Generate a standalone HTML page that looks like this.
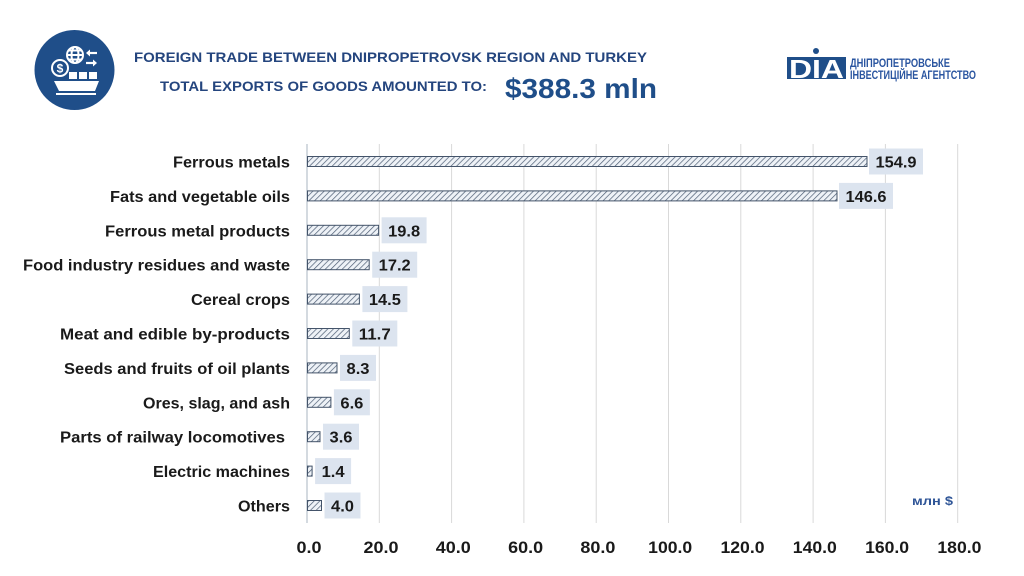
<!DOCTYPE html>
<html>
<head>
<meta charset="utf-8">
<style>
  html, body { margin:0; padding:0; background:#ffffff; }
  svg { display:block; }
  text { font-family: "Liberation Sans", "DejaVu Sans", sans-serif; }
</style>
</head>
<body>
<svg width="1024" height="576" viewBox="0 0 1024 576" xmlns="http://www.w3.org/2000/svg">
  <defs>
    <pattern id="hatch" patternUnits="userSpaceOnUse" width="4" height="4" patternTransform="rotate(45)">
      <rect width="4" height="4" fill="#eef2f7"/>
      <line x1="0" y1="0" x2="0" y2="4" stroke="#4d5d73" stroke-width="1.4"/>
    </pattern>
  </defs>
  <rect width="1024" height="576" fill="#ffffff"/>

  <!-- Icon -->
  <circle cx="74.5" cy="70" r="40" fill="#1f4e89"/>
  <g fill="none" stroke="#ffffff" stroke-width="2">
    <circle cx="75" cy="55" r="8"/>
    <ellipse cx="75" cy="55" rx="3.5" ry="8"/>
    <line x1="67" y1="55" x2="83" y2="55"/>
    <line x1="68.5" y1="50.5" x2="81.5" y2="50.5"/>
    <line x1="68.5" y1="59.5" x2="81.5" y2="59.5"/>
  </g>
  <g stroke="#ffffff" stroke-width="2.2" fill="#ffffff">
    <line x1="89" y1="53" x2="97" y2="53"/>
    <polygon points="86,53 90,49.5 90,56.5" stroke="none"/>
    <line x1="86" y1="63" x2="94" y2="63"/>
    <polygon points="97,63 93,59.5 93,66.5" stroke="none"/>
  </g>
  <circle cx="60" cy="68" r="8" fill="#1f4e89" stroke="#ffffff" stroke-width="2"/>
  <text x="60" y="72.5" font-size="12" font-weight="bold" fill="#ffffff" text-anchor="middle">$</text>
  <g fill="#ffffff">
    <rect x="69" y="72" width="8" height="7"/>
    <rect x="79" y="72" width="8" height="7"/>
    <rect x="89" y="72" width="8" height="7"/>
    <polygon points="54,81 99,81 95,91 59,91"/>
  </g>
  <rect x="56" y="93" width="40" height="2" fill="#ffffff"/>

  <!-- Title -->
  <text x="134" y="62" font-size="14" font-weight="bold" fill="#24457e" textLength="513" lengthAdjust="spacingAndGlyphs">FOREIGN TRADE BETWEEN DNIPROPETROVSK REGION AND  TURKEY</text>
  <text x="160" y="91" font-size="14" font-weight="bold" fill="#24457e" textLength="327" lengthAdjust="spacingAndGlyphs">TOTAL EXPORTS OF GOODS AMOUNTED TO:</text>
  <text x="505" y="98" font-size="28" font-weight="bold" fill="#1f4e89" textLength="152" lengthAdjust="spacingAndGlyphs">$388.3 mln</text>

  <!-- DIA logo -->
  <rect x="787" y="57" width="59" height="22" fill="#1f4e89"/>
  <circle cx="816" cy="51" r="3" fill="#1f4e89"/>
  <text x="789" y="78" font-size="26" font-weight="bold" fill="#ffffff" textLength="55" lengthAdjust="spacingAndGlyphs">DIA</text>
  <text x="850" y="67" font-size="11.5" font-weight="bold" fill="#2a55a0" textLength="100" lengthAdjust="spacingAndGlyphs">ДНІПРОПЕТРОВСЬКЕ</text>
  <text x="850" y="79" font-size="11.5" font-weight="bold" fill="#2a55a0" textLength="126" lengthAdjust="spacingAndGlyphs">ІНВЕСТИЦІЙНЕ АГЕНТСТВО</text>

  <!-- Gridlines -->
  <g stroke="#d9d9d9" stroke-width="1">
    <line x1="379.3" y1="144" x2="379.3" y2="523"/>
    <line x1="451.6" y1="144" x2="451.6" y2="523"/>
    <line x1="523.9" y1="144" x2="523.9" y2="523"/>
    <line x1="596.2" y1="144" x2="596.2" y2="523"/>
    <line x1="668.5" y1="144" x2="668.5" y2="523"/>
    <line x1="740.8" y1="144" x2="740.8" y2="523"/>
    <line x1="813.1" y1="144" x2="813.1" y2="523"/>
    <line x1="885.4" y1="144" x2="885.4" y2="523"/>
    <line x1="957.7" y1="144" x2="957.7" y2="523"/>
  </g>
  <line x1="307" y1="144" x2="307" y2="523" stroke="#aab4c2" stroke-width="1"/>

  <!-- Bars -->
  <g fill="url(#hatch)" stroke="#44546a" stroke-width="1">
    <rect x="307.5" y="156.5" width="559.5" height="10"/>
    <rect x="307.5" y="190.9" width="529.5" height="10"/>
    <rect x="307.5" y="225.3" width="71.1" height="10"/>
    <rect x="307.5" y="259.7" width="61.7" height="10"/>
    <rect x="307.5" y="294.1" width="51.9" height="10"/>
    <rect x="307.5" y="328.5" width="41.8" height="10"/>
    <rect x="307.5" y="362.9" width="29.5" height="10"/>
    <rect x="307.5" y="397.3" width="23.4" height="10"/>
    <rect x="307.5" y="431.7" width="12.5" height="10"/>
    <rect x="307.5" y="466.1" width="4.6" height="10"/>
    <rect x="307.5" y="500.5" width="14.0" height="10"/>
  </g>

  <!-- Value boxes -->
  <g fill="#dce4ef">
    <rect x="869" y="148.5" width="54" height="26"/>
    <rect x="839" y="182.9" width="54" height="26"/>
    <rect x="381.6" y="217.3" width="45" height="26"/>
    <rect x="372.2" y="251.7" width="45" height="26"/>
    <rect x="362.4" y="286.1" width="45" height="26"/>
    <rect x="352.3" y="320.5" width="45" height="26"/>
    <rect x="340" y="354.9" width="36" height="26"/>
    <rect x="333.9" y="389.3" width="36" height="26"/>
    <rect x="323" y="423.7" width="36" height="26"/>
    <rect x="315.1" y="458.1" width="36" height="26"/>
    <rect x="324.5" y="492.5" width="36" height="26"/>
  </g>
  <g font-size="16" font-weight="bold" fill="#1a1a1a" text-anchor="middle">
    <text x="896" y="167.5" textLength="41" lengthAdjust="spacingAndGlyphs">154.9</text>
    <text x="866" y="201.9" textLength="41" lengthAdjust="spacingAndGlyphs">146.6</text>
    <text x="404.1" y="236.3" textLength="32" lengthAdjust="spacingAndGlyphs">19.8</text>
    <text x="394.7" y="270.7" textLength="32" lengthAdjust="spacingAndGlyphs">17.2</text>
    <text x="384.9" y="305.1" textLength="32" lengthAdjust="spacingAndGlyphs">14.5</text>
    <text x="374.8" y="339.5" textLength="32" lengthAdjust="spacingAndGlyphs">11.7</text>
    <text x="358" y="373.9" textLength="23" lengthAdjust="spacingAndGlyphs">8.3</text>
    <text x="351.9" y="408.3" textLength="23" lengthAdjust="spacingAndGlyphs">6.6</text>
    <text x="341" y="442.7" textLength="23" lengthAdjust="spacingAndGlyphs">3.6</text>
    <text x="333.1" y="477.1" textLength="23" lengthAdjust="spacingAndGlyphs">1.4</text>
    <text x="342.5" y="511.5" textLength="23" lengthAdjust="spacingAndGlyphs">4.0</text>
  </g>

  <!-- Category labels -->
  <g font-size="16" font-weight="bold" fill="#1a1a1a" text-anchor="end">
    <text x="290" y="167.5" textLength="117" lengthAdjust="spacingAndGlyphs">Ferrous metals</text>
    <text x="290" y="201.9" textLength="180" lengthAdjust="spacingAndGlyphs">Fats and vegetable oils</text>
    <text x="290" y="236.3" textLength="185" lengthAdjust="spacingAndGlyphs">Ferrous metal products</text>
    <text x="290" y="270.7" textLength="267" lengthAdjust="spacingAndGlyphs">Food industry residues and waste</text>
    <text x="290" y="305.1" textLength="99" lengthAdjust="spacingAndGlyphs">Cereal crops</text>
    <text x="290" y="339.5" textLength="230" lengthAdjust="spacingAndGlyphs">Meat and edible by-products</text>
    <text x="290" y="373.9" textLength="226" lengthAdjust="spacingAndGlyphs">Seeds and fruits of oil plants</text>
    <text x="290" y="408.3" textLength="147" lengthAdjust="spacingAndGlyphs">Ores, slag, and ash</text>
    <text x="285" y="442.7" textLength="225" lengthAdjust="spacingAndGlyphs">Parts of railway locomotives</text>
    <text x="290" y="477.1" textLength="137" lengthAdjust="spacingAndGlyphs">Electric machines</text>
    <text x="290" y="511.5" textLength="52" lengthAdjust="spacingAndGlyphs">Others</text>
  </g>

  <!-- Unit label -->
  <text x="912" y="505" font-size="12" font-weight="bold" fill="#2f5597" textLength="41" lengthAdjust="spacingAndGlyphs">млн $</text>

  <!-- X axis tick labels -->
  <g font-size="17" font-weight="bold" fill="#1a1a1a" text-anchor="middle">
    <text x="309" y="553" textLength="25" lengthAdjust="spacingAndGlyphs">0.0</text>
    <text x="381" y="553" textLength="35" lengthAdjust="spacingAndGlyphs">20.0</text>
    <text x="453.3" y="553" textLength="35" lengthAdjust="spacingAndGlyphs">40.0</text>
    <text x="525.6" y="553" textLength="35" lengthAdjust="spacingAndGlyphs">60.0</text>
    <text x="597.9" y="553" textLength="35" lengthAdjust="spacingAndGlyphs">80.0</text>
    <text x="670.2" y="553" textLength="44" lengthAdjust="spacingAndGlyphs">100.0</text>
    <text x="742.5" y="553" textLength="44" lengthAdjust="spacingAndGlyphs">120.0</text>
    <text x="814.8" y="553" textLength="44" lengthAdjust="spacingAndGlyphs">140.0</text>
    <text x="887.1" y="553" textLength="44" lengthAdjust="spacingAndGlyphs">160.0</text>
    <text x="959.4" y="553" textLength="44" lengthAdjust="spacingAndGlyphs">180.0</text>
  </g>
</svg>
</body>
</html>
